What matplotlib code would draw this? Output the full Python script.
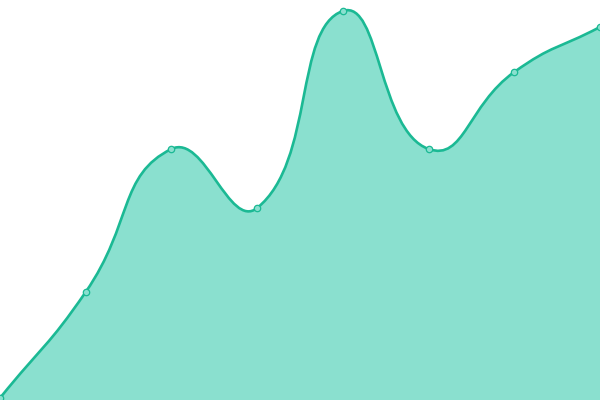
import numpy as np
import matplotlib
matplotlib.use("Agg")
import matplotlib.pyplot as plt
from matplotlib.path import Path
from matplotlib.patches import PathPatch

categories = ["A", "B", "C", "D", "E", "F", "G", "H"]
values = [2, 108, 251, 192, 389, 251, 328, 373]

LINE = "#1bb994"
FILL = "#8ae0cf"

fig = plt.figure(figsize=(6, 4), dpi=100)
ax = fig.add_axes([0, 0, 1, 1])
ax.set_xlim(0, len(categories) - 1)
ax.set_ylim(0, 400)
ax.axis("off")

xs = np.arange(len(categories), dtype=float)
ys = np.array(values, dtype=float)
pts = ax.transData.transform(np.column_stack([xs, ys]))

smooth = 0.5
n = len(pts)
cps_out = []
cps_in = []
for i in range(n):
    p = pts[i]
    prev = pts[i - 1] if i > 0 else p
    nxt = pts[i + 1] if i < n - 1 else p
    v = nxt - prev
    d0 = np.hypot(*(p - prev))
    d1 = np.hypot(*(nxt - p))
    tot = d0 + d1
    r = d1 / tot if tot > 0 else 0
    cps_in.append(p - v * smooth * (1 - r))
    cps_out.append(p + v * smooth * r)

verts = [pts[0]]
codes = [Path.MOVETO]
for i in range(n - 1):
    verts += [cps_out[i], cps_in[i + 1], pts[i + 1]]
    codes += [Path.CURVE4] * 3
inv = ax.transData.inverted()
verts_d = inv.transform(np.array(verts))

line_path = Path(verts_d, codes)
fill_verts = list(verts_d) + [[xs[-1], 0], [xs[0], 0], verts_d[0]]
fill_codes = codes + [Path.LINETO, Path.LINETO, Path.CLOSEPOLY]
ax.add_patch(PathPatch(Path(fill_verts, fill_codes), facecolor=FILL, edgecolor="none", zorder=1))
ax.add_patch(PathPatch(line_path, facecolor="none", edgecolor=LINE, lw=1.9, zorder=2, clip_on=False))
ax.plot(xs, ys, "o", ms=4.6, mfc=FILL, mec=LINE, mew=0.9, zorder=3, clip_on=False)

fig.savefig("out.png", dpi=100)
